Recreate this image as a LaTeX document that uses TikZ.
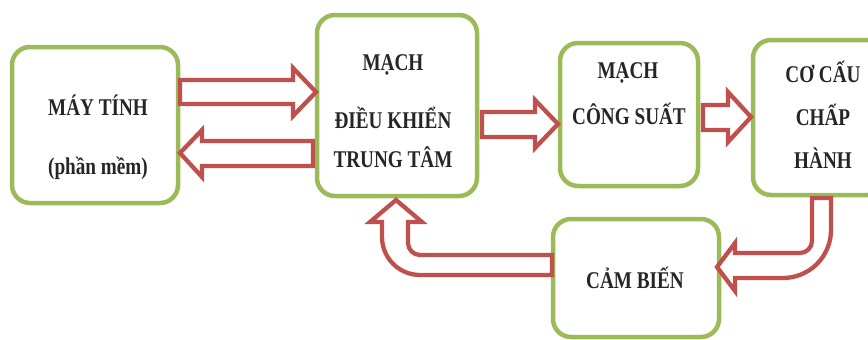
\documentclass[tikz,border=0pt]{standalone}
\usepackage{fontspec}
\setmainfont{Liberation Serif}[FakeStretch=0.8]
\definecolor{boxgreen}{HTML}{9BBB59}
\definecolor{arrred}{HTML}{C0504D}
\begin{document}
\begin{tikzpicture}[x=1pt,y=-1pt,
  box/.style={draw=boxgreen,line width=4.5pt,rounded corners=18pt,fill=white},
  blockarrow/.style={draw=arrred,line width=4.3pt,fill=white,line join=miter},
  lbl/.style={anchor=base,inner sep=0pt,font=\bfseries\fontsize{24}{24}\selectfont,text=black!85}]
\useasboundingbox (0,0) rectangle (868,340);
\clip (0,0) rectangle (868,340);
% boxes
\draw[box] (12,47) rectangle (178,203);
\draw[box] (317,15) rectangle (477,196);
\draw[box] (560,43) rectangle (698,186);
\draw[box] (753,40) rectangle (885,195);
\draw[box] (553,219) rectangle (719,337);
% arrows
\draw[blockarrow] (180,80) -- (293,80) -- (293,68) -- (316,92) -- (293,116) -- (293,104) -- (180,104) -- cycle;
\draw[blockarrow] (313,141) -- (202,141) -- (202,130) -- (180,153) -- (202,177) -- (202,166) -- (313,166) -- cycle;
\draw[blockarrow] (482,112) -- (535,112) -- (535,100) -- (558,124) -- (535,148) -- (535,137) -- (482,137) -- cycle;
\draw[blockarrow] (703,105) -- (728,105) -- (728,92) -- (751,117) -- (728,142) -- (728,130) -- (703,130) -- cycle;
\draw[blockarrow] (812,198) -- (831,198) -- (831,230) .. controls (831,256.5) and (809.5,278) .. (783,278)
  -- (735,278) -- (735,291) -- (717,267) -- (735,243) -- (735,253) -- (800,253)
  .. controls (806.6,253) and (812,247.6) .. (812,241) -- cycle;
\draw[blockarrow] (552,255) -- (420,255) .. controls (413.4,255) and (408,249.6) .. (408,243)
  -- (408,222) -- (422,222) -- (396,200) -- (370,222) -- (382,222) -- (382,237)
  .. controls (382,258) and (399,275) .. (420,275) -- (552,275) -- cycle;
% labels
\node[lbl] (t1) at (98,115) {MÁY TÍNH};
\node[lbl] (t2) at (98,174) {(phần mềm)};
\node[lbl] (t3) at (393,70) {MẠCH};
\node[lbl] (t4) at (393,128) {ĐIỀU KHIỂN};
\node[lbl] (t5) at (393,167) {TRUNG TÂM};
\node[lbl] (t6) at (628,78) {MẠCH};
\node[lbl] (t7) at (629,124) {CÔNG SUẤT};
\node[lbl] (t8) at (823,82) {CƠ CẤU};
\node[lbl] (t9) at (823,125) {CHẤP};
\node[lbl] (t10) at (823,168) {HÀNH};
\node[lbl] (t11) at (635,288) {CẢM BIẾN};
\end{tikzpicture}
\end{document}
